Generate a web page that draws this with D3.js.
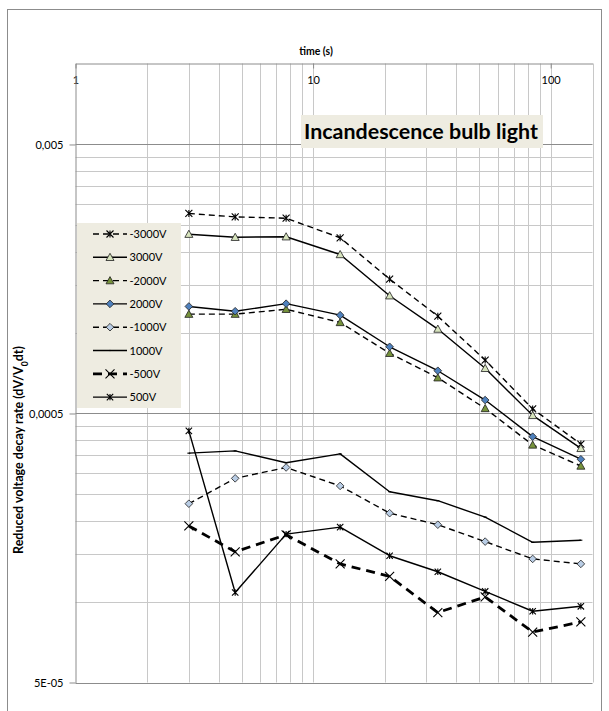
<!DOCTYPE html>
<html>
  <head>
    <meta charset="utf-8" />
    <title>Incandescence bulb light</title>
    <script src="https://d3js.org/d3.v7.min.js"></script>
    <style>
      body {
        margin: 0;
        background: #fff;
      }
      text {
        font-family: Lato, "Open Sans", sans-serif;
        fill: #000;
      }
    </style>
  </head>
  <body>

    <svg id="chart"></svg>

    <script>

      // time (s) of each measurement
      var times = [3, 4.7, 7.7, 13, 21, 33.5, 53, 84, 134];

      var seriesNames = ["-3000V", "3000V", "-2000V", "2000V", "-1000V", "1000V", "-500V", "500V"];

      // reduced voltage decay rate
      var neg3000 = [0.00277, 0.00269, 0.00266, 0.00225, 0.00158, 0.00115, 0.00079, 0.00052, 0.000385];
      var pos3000 = [0.00232, 0.00226, 0.00227, 0.00195, 0.00137, 0.00103, 0.000736, 0.000492, 0.000371];
      var neg2000 = [0.00117, 0.00117, 0.00122, 0.00109, 0.000837, 0.000679, 0.000522, 0.000382, 0.000319];
      var pos2000 = [0.00125, 0.0012, 0.00128, 0.00116, 0.000885, 0.000721, 0.000561, 0.00041, 0.000338];
      var neg1000 = [0.000231, 0.000287, 0.000315, 0.000269, 0.000213, 0.000193, 0.000167, 0.000144, 0.000138];
      var pos1000 = [0.000356, 0.000363, 0.000328, 0.000354, 0.000256, 0.000237, 0.000206, 0.000166, 0.000169];
      var neg500 = [0.000191, 0.000153, 0.000177, 0.000138, 0.000124, 0.000091, 0.000104, 0.000077, 0.000084];
      var pos500 = [0.000431, 0.000108, 0.000178, 0.000189, 0.000148, 0.000129, 0.000109, 0.000092, 0.000096];

      var seriesValues = [neg3000, pos3000, neg2000, pos2000, neg1000, pos1000, neg500, pos500];

      var xTicks = [1, 10, 100];
      var xTickLabels = ["1", "10", "100"];
      var yTicks = [0.00005, 0.0005, 0.005];
      var yTickLabels = ["5E-05", "0,0005", "0,005"];

      var width = 609;
      var height = 711;
      var margin = {
        top: 63.5,
        right: 16.5,
        bottom: 28.5,
        left: 75.5};
      var chartRight = width - margin.right;
      var chartBottom = height - margin.bottom;

      // looks for each series (marker, line)
      var styles = {
        "-3000V": {marker: "star", fill: "none", dash: "6,4", width: 1.4, size: 3.5},
        "3000V": {marker: "triangle", fill: "#d7e4bd", dash: null, width: 1.4, size: 4},
        "-2000V": {marker: "triangle", fill: "#77933c", dash: "6,4", width: 1.4, size: 4},
        "2000V": {marker: "diamond", fill: "#4f81bd", dash: null, width: 1.4, size: 3.8},
        "-1000V": {marker: "diamond", fill: "#b9cde5", dash: "6,4", width: 1.4, size: 3.8},
        "1000V": {marker: "dash", fill: "none", dash: null, width: 1.4, size: 1.5},
        "-500V": {marker: "x", fill: "none", dash: "9,6", width: 2.8, size: 4.5},
        "500V": {marker: "star", fill: "none", dash: null, width: 1.4, size: 3.2}
      };

      var svg = d3.select("#chart")
        .attr("width", width)
        .attr("height", height);

      var x = d3.scaleLog()
        .domain([1, 150])
        .range([margin.left, chartRight]);

      var y = d3.scaleLog()
        .domain([0.00005, 0.01])
        .range([chartBottom, margin.top]);

      // outer chart border
      svg.append("rect")
        .attr("x", 7.5)
        .attr("y", 9.5)
        .attr("width", 594)
        .attr("height", 702)
        .attr("fill", "#fff")
        .attr("stroke", "#8c8c8c")
        .attr("stroke-width", 1);

      // minor grid values (2..9 of each decade)
      var xGrid = [];
      [1, 10, 100].forEach(function(d) {
        for (var k = 2; k <= 9; k++) {
          if (d * k <= 150) xGrid.push(d * k);
        }
      });
      xGrid.push(10, 100, 150);

      var yGrid = [];
      yTicks.forEach(function(d) {
        for (var k = 2; k <= 9; k++) {
          if (d * k < 0.01) yGrid.push(d * k);
        }
      });

      svg.append("g").selectAll("line")
        .data(xGrid)
        .enter().append("line")
        .attr("x1", function(d) { return Math.round(x(d)) + 0.5; })
        .attr("x2", function(d) { return Math.round(x(d)) + 0.5; })
        .attr("y1", margin.top)
        .attr("y2", chartBottom)
        .attr("stroke", "#c8c8c8")
        .attr("stroke-width", 1);

      svg.append("g").selectAll("line")
        .data(yGrid)
        .enter().append("line")
        .attr("x1", margin.left)
        .attr("x2", chartRight)
        .attr("y1", function(d) { return Math.round(y(d)) + 0.5; })
        .attr("y2", function(d) { return Math.round(y(d)) + 0.5; })
        .attr("stroke", "#c8c8c8")
        .attr("stroke-width", 1);

      // major horizontal gridlines
      svg.append("g").selectAll("line")
        .data(yTicks)
        .enter().append("line")
        .attr("x1", margin.left)
        .attr("x2", chartRight)
        .attr("y1", function(d) { return Math.round(y(d)) + 0.5; })
        .attr("y2", function(d) { return Math.round(y(d)) + 0.5; })
        .attr("stroke", "#8c8c8c")
        .attr("stroke-width", 1);

      // axes
      var xAxis = svg.append("g")
        .attr("transform", "translate(0," + margin.top + ")")
        .call(d3.axisBottom(x)
          .tickValues(xTicks)
          .tickFormat(function(d, i) { return xTickLabels[i]; })
          .tickSize(5)
          .tickSizeOuter(0)
          .tickPadding(8));

      var yAxis = svg.append("g")
        .attr("transform", "translate(" + margin.left + ",0)")
        .call(d3.axisLeft(y)
          .tickValues(yTicks)
          .tickFormat(function(d, i) { return yTickLabels[i]; })
          .tickSize(6)
          .tickSizeOuter(0)
          .tickPadding(6));

      [xAxis, yAxis].forEach(function(ax) {
        ax.select(".domain").attr("stroke", "#8c8c8c");
        ax.selectAll(".tick line").attr("stroke", "#8c8c8c");
        ax.selectAll(".tick text")
          .attr("font-family", "Lato, sans-serif")
          .attr("font-size", 11)
          .attr("fill", "#000");
      });

      // axis titles
      svg.append("text")
        .attr("x", 316)
        .attr("y", 55)
        .attr("text-anchor", "middle")
        .attr("font-size", 10.5)
        .attr("font-weight", "bold")
        .text("time (s)");

      var yTitle = svg.append("text")
        .attr("transform", "translate(22.5,450) rotate(-90)")
        .attr("text-anchor", "middle")
        .attr("font-size", 12.5)
        .attr("font-weight", "bold");
      yTitle.append("tspan").text("Reduced voltage decay rate (dV/V");
      yTitle.append("tspan").attr("baseline-shift", "sub").attr("font-size", 8.5).text("0");
      yTitle.append("tspan").text("dt)");

      // markers
      function markerPath(type, s) {
        if (type == "triangle") {
          return "M0," + (-s) + "L" + s + "," + (s * 0.8) + "L" + (-s) + "," + (s * 0.8) + "Z";
        }
        if (type == "diamond") {
          return "M0," + (-s) + "L" + s + ",0L0," + s + "L" + (-s) + ",0Z";
        }
        if (type == "star") {
          return "M" + (-s) + "," + (-s) + "L" + s + "," + s +
            "M" + (-s) + "," + s + "L" + s + "," + (-s) +
            "M0," + (-s) + "L0," + s;
        }
        if (type == "x") {
          return "M" + (-s) + "," + (-s) + "L" + s + "," + s +
            "M" + (-s) + "," + s + "L" + s + "," + (-s);
        }
        return "M" + (-s) + ",0L" + s + ",0";
      }

      function drawMarker(g, name, cx, cy) {
        var st = styles[name];
        g.append("path")
          .attr("transform", "translate(" + cx + "," + cy + ")")
          .attr("d", markerPath(st.marker, st.size))
          .attr("fill", st.fill)
          .attr("stroke", st.fill == "none" ? "#000" : "#1e1e1e")
          .attr("stroke-width", st.fill == "none" ? 1.1 : 0.8);
      }

      var line = d3.line()
        .x(function(d) { return x(d.t); })
        .y(function(d) { return y(d.v); });

      var plot = svg.append("g");

      seriesNames.forEach(function(name, i) {
        var st = styles[name];
        var pts = times.map(function(t, j) {
          return {t: t, v: seriesValues[i][j]};
        });
        plot.append("path")
          .datum(pts)
          .attr("d", line)
          .attr("fill", "none")
          .attr("stroke", "#000")
          .attr("stroke-width", st.width)
          .attr("stroke-dasharray", st.dash)
          .attr("stroke-linejoin", "round");
        var mg = plot.append("g");
        pts.forEach(function(p) {
          drawMarker(mg, name, x(p.t), y(p.v));
        });
      });

      // title box
      var titleG = svg.append("g");
      titleG.append("rect")
        .attr("x", 301)
        .attr("y", 115)
        .attr("width", 242)
        .attr("height", 33)
        .attr("fill", "#eeece1");
      var title = titleG.append("text")
        .attr("x", 304)
        .attr("y", 139)
        .attr("font-size", 20)
        .attr("font-weight", "bold")
        .text("Incandescence bulb light");
      var tw = title.node().getComputedTextLength();
      title.attr("font-size", 20 * 234 / tw);

      // legend
      var legend = svg.append("g");
      legend.append("rect")
        .attr("x", 77)
        .attr("y", 223)
        .attr("width", 104)
        .attr("height", 185)
        .attr("fill", "#eeece1");

      seriesNames.forEach(function(name, i) {
        var st = styles[name];
        var ly = 234 + i * 23.3;
        legend.append("line")
          .attr("x1", 93)
          .attr("x2", 127)
          .attr("y1", ly)
          .attr("y2", ly)
          .attr("stroke", "#000")
          .attr("stroke-width", st.width)
          .attr("stroke-dasharray", st.dash);
        drawMarker(legend, name, 110, ly);
        legend.append("text")
          .attr("x", 129.5)
          .attr("y", ly + 4)
          .attr("font-size", 11)
          .text(name);
      });

    </script>
  </body>
</html>
